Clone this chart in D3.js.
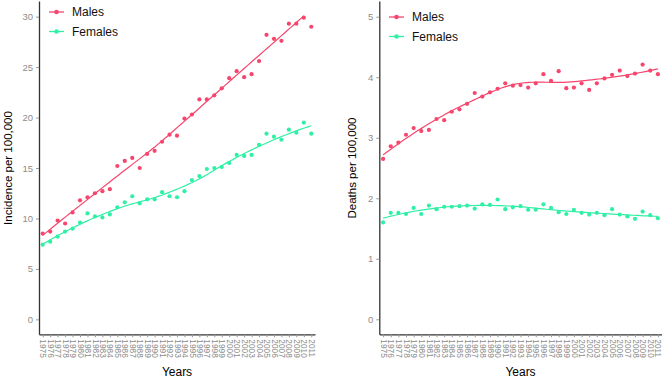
<!DOCTYPE html>
<html>
<head>
<meta charset="utf-8">
<script src="https://cdn.jsdelivr.net/npm/d3@7"></script>
<style>
  body { margin: 0; background: #fff; }
  svg { font-family: "Liberation Sans", Arial, sans-serif; }
</style>
</head>
<body>
<svg width="662" height="380"></svg>
<script>
// years on the x axis
var years = [1975, 1976, 1977, 1978, 1979, 1980, 1981, 1982, 1983, 1984, 1985, 1986,
    1987, 1988, 1989, 1990, 1991, 1992, 1993, 1994, 1995, 1996, 1997, 1998, 1999,
    2000, 2001, 2002, 2003, 2004, 2005, 2006, 2007, 2008, 2009, 2010, 2011];

// incidence per 100,000 (left panel)
var incidenceMales = [8.5, 8.7, 9.8, 9.5, 10.6, 11.8, 12.1, 12.5, 12.7, 12.9, 15.2, 15.7,
    16.0, 15.0, 16.4, 16.7, 17.6, 18.3, 18.2, 19.9, 20.3, 21.8, 21.8, 22.2, 22.9,
    23.9, 24.6, 24.0, 24.3, 25.6, 28.2, 27.8, 27.6, 29.3, 29.3, 29.9, 29.0];
var incidenceFemales = [7.4, 7.7, 8.2, 8.7, 9.0, 9.6, 10.5, 10.2, 10.1, 10.4, 11.1, 11.6,
    12.2, 11.5, 11.9, 11.9, 12.6, 12.2, 12.1, 12.7, 13.8, 14.2, 14.9, 15.0, 15.1,
    15.5, 16.3, 16.2, 16.3, 17.3, 18.4, 18.1, 17.8, 18.8, 18.5, 19.5, 18.4];

// deaths per 100,000 (right panel)
var deathsMales = [2.65, 2.86, 2.92, 3.05, 3.16, 3.11, 3.13, 3.31, 3.29, 3.43, 3.47, 3.56,
    3.74, 3.68, 3.75, 3.81, 3.90, 3.86, 3.87, 3.83, 3.90, 4.05, 3.94, 4.10, 3.82,
    3.83, 3.90, 3.79, 3.90, 3.98, 4.04, 4.11, 4.02, 4.06, 4.21, 4.11, 4.05];
var deathsFemales = [1.60, 1.76, 1.76, 1.74, 1.84, 1.74, 1.88, 1.82, 1.86, 1.86, 1.87, 1.88,
    1.83, 1.90, 1.89, 1.98, 1.82, 1.85, 1.87, 1.81, 1.81, 1.90, 1.84, 1.77, 1.74,
    1.81, 1.76, 1.73, 1.76, 1.72, 1.82, 1.73, 1.70, 1.66, 1.78, 1.72, 1.67];

var incidenceTicks = [0, 5, 10, 15, 20, 25, 30];
var deathsTicks = [0, 1, 2, 3, 4, 5];
var seriesNames = ["Males", "Females"];
var colors = {"Males": "#f6466e", "Females": "#30f0a6"};

var svg = d3.select("svg");

// local quadratic regression with tricube weights (like ggplot's loess smoother)
function loess(xs, ys, span, xEval) {
    var n = xs.length, q = Math.floor(span * n);
    return xEval.map(function(x0) {
        var d = xs.map(function(x) { return Math.abs(x - x0); });
        var h = d.slice().sort(function(a, b) { return a - b; })[q - 1] * 1.0001;
        var s = [0, 0, 0, 0, 0], t = [0, 0, 0];
        for (var i = 0; i < n; i++) {
            var r = d[i] / h;
            if (r >= 1) continue;
            var w = Math.pow(1 - r * r * r, 3), u = xs[i] - x0;
            for (var k = 0; k < 5; k++) s[k] += w * Math.pow(u, k);
            for (var k = 0; k < 3; k++) t[k] += w * Math.pow(u, k) * ys[i];
        }
        var m = [[s[0], s[1], s[2]], [s[1], s[2], s[3]], [s[2], s[3], s[4]]];
        var det = function(a) {
            return a[0][0] * (a[1][1] * a[2][2] - a[1][2] * a[2][1])
                 - a[0][1] * (a[1][0] * a[2][2] - a[1][2] * a[2][0])
                 + a[0][2] * (a[1][0] * a[2][1] - a[1][1] * a[2][0]);
        };
        var m0 = m.map(function(row, j) { return [t[j], row[1], row[2]]; });
        return [x0, det(m0) / det(m)];
    });
}

function drawPanel(p) {
    var g = svg.append("g");
    var x = d3.scaleLinear()
        .domain([years[0] - 0.5, years[years.length - 1] + 0.5])
        .range([p.left, p.right]);
    var y = d3.scaleLinear().domain(p.yDomain).range([334.3, 1]);

    // axes
    var yAxis = g.append("g")
        .attr("transform", "translate(" + p.left + ",0)")
        .call(d3.axisLeft(y).tickValues(p.ticks).tickFormat(d3.format("d"))
            .tickSize(3).tickSizeOuter(0).tickPadding(3));
    var xAxis = g.append("g")
        .attr("transform", "translate(0,334.3)")
        .call(d3.axisBottom(x).tickValues(years).tickFormat(d3.format("d"))
            .tickSize(3).tickSizeOuter(0));
    xAxis.selectAll("text")
        .attr("transform", "rotate(90)")
        .attr("x", 5)
        .attr("y", 0)
        .attr("dy", "0.35em")
        .style("text-anchor", "start")
        .style("font-size", "8.3px");
    yAxis.selectAll("text").style("font-size", "9.5px");
    g.selectAll(".domain").attr("stroke", "#333").attr("stroke-width", 1.3);
    g.selectAll(".tick line").attr("stroke", "#999");
    g.selectAll(".tick text").attr("fill", "#8c8c8c");

    // titles
    g.append("text")
        .attr("x", (p.left + p.right) / 2)
        .attr("y", 376)
        .attr("text-anchor", "middle")
        .style("font-size", "12px")
        .text("Years");
    g.append("text")
        .attr("transform", "translate(" + p.titleX + ",168) rotate(-90)")
        .attr("text-anchor", "middle")
        .style("font-size", "11.5px")
        .text(p.yTitle);

    // smoothers and points
    p.series.forEach(function(s) {
        var end = s.smoothEnd || years[years.length - 1];
        var xs = [], ys = [];
        years.forEach(function(yr, i) { if (yr <= end) { xs.push(yr); ys.push(s.values[i]); } });
        var grid = d3.range(80).map(function(i) { return years[0] + (end - years[0]) * i / 79; });
        var fit = loess(xs, ys, 0.75, grid);
        g.append("path")
            .datum(fit)
            .attr("fill", "none")
            .attr("stroke", colors[s.name])
            .attr("stroke-width", 1.2)
            .attr("d", d3.line()
                .x(function(d) { return x(d[0]); })
                .y(function(d) { return y(d[1]); }));
        g.append("g").selectAll("circle")
            .data(s.values)
            .enter().append("circle")
            .attr("cx", function(d, i) { return x(years[i]); })
            .attr("cy", function(d) { return y(d); })
            .attr("r", 2.1)
            .attr("fill", colors[s.name]);
    });

    // legend
    var leg = g.selectAll(".legend")
        .data(seriesNames)
        .enter().append("g")
        .attr("transform", function(d, i) {
            return "translate(" + p.legendX + "," + (p.legendY + i * 19.5) + ")";
        });
    leg.append("line")
        .attr("x1", 0).attr("x2", 15)
        .attr("stroke", function(d) { return colors[d]; })
        .attr("stroke-width", 1.3);
    leg.append("circle")
        .attr("cx", 7.5).attr("r", 2.3)
        .attr("fill", function(d) { return colors[d]; });
    leg.append("text")
        .attr("x", 23)
        .attr("dy", "0.35em")
        .style("font-size", "12px")
        .attr("fill", "#111")
        .text(function(d) { return d; });
}

drawPanel({
    left: 39, right: 315,
    yDomain: [-1.48, 31.55],
    ticks: incidenceTicks,
    yTitle: "Incidence per 100,000",
    titleX: 12,
    legendX: 49, legendY: 12,
    series: [
        {name: "Males", values: incidenceMales, smoothEnd: 2010},
        {name: "Females", values: incidenceFemales}
    ]
});

drawPanel({
    left: 379.3, right: 661.7,
    yDomain: [-0.248, 5.26],
    ticks: deathsTicks,
    yTitle: "Deaths per 100,000",
    titleX: 356,
    legendX: 389, legendY: 17,
    series: [
        {name: "Males", values: deathsMales},
        {name: "Females", values: deathsFemales}
    ]
});
</script>
</body>
</html>
